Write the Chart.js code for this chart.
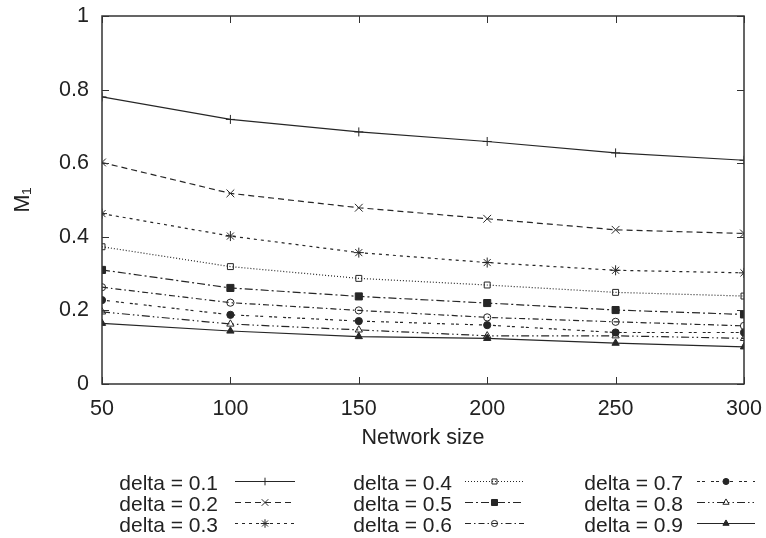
<!DOCTYPE html>
<html>
<head>
<meta charset="utf-8">
<script src="https://cdn.jsdelivr.net/npm/chart.js@4.4.0/dist/chart.umd.min.js"></script>
<style>
html,body{margin:0;padding:0;background:#fff;}
#wrap{width:766px;height:538px;}
</style>
</head>
<body>
<div id="wrap"><canvas id="c" width="766" height="538"></canvas></div>
<script>
const networkSizes = [50, 100, 150, 200, 250, 300];
const xTickLabels = ['50', '100', '150', '200', '250', '300'];
const yTickLabels = ['0', '0.2', '0.4', '0.6', '0.8', '1'];
const seriesLabels = ['delta = 0.1','delta = 0.2','delta = 0.3','delta = 0.4','delta = 0.5','delta = 0.6','delta = 0.7','delta = 0.8','delta = 0.9'];
const delta01 = [0.780, 0.719, 0.685, 0.659, 0.628, 0.608];
const delta02 = [0.602, 0.518, 0.479, 0.449, 0.419, 0.409];
const delta03 = [0.463, 0.402, 0.357, 0.330, 0.309, 0.302];
const delta04 = [0.373, 0.319, 0.287, 0.269, 0.249, 0.239];
const delta05 = [0.310, 0.261, 0.238, 0.220, 0.201, 0.189];
const delta06 = [0.263, 0.221, 0.200, 0.181, 0.169, 0.158];
const delta07 = [0.228, 0.188, 0.171, 0.160, 0.140, 0.140];
const delta08 = [0.196, 0.163, 0.147, 0.131, 0.131, 0.124];
const delta09 = [0.165, 0.144, 0.129, 0.124, 0.111, 0.101];
const seriesValues = [delta01, delta02, delta03, delta04, delta05, delta06, delta07, delta08, delta09];

const INK = '#262626';
const styles = [
  {dash: [], pt: 'cross', r: 4.5, fill: false},
  {dash: [6, 4], pt: 'crossRot', r: 5.5, fill: false},
  {dash: [3, 4], pt: 'star', r: 5, fill: false},
  {dash: [1, 2], pt: 'rect', r: 4.2, fill: false},
  {dash: [8, 3, 2, 3], pt: 'rect', r: 5, fill: true},
  {dash: [6, 3, 1.5, 3], pt: 'circle', r: 3.6, fill: false},
  {dash: [3, 2, 3, 6], pt: 'circle', r: 3.6, fill: true},
  {dash: [8, 3, 1.5, 3, 1.5, 3], pt: 'triangle', r: 4.2, fill: false},
  {dash: [], pt: 'triangle', r: 4.2, fill: true}
];

const datasets = seriesLabels.map((lab, i) => ({
  label: lab,
  data: networkSizes.map((x, j) => ({x: x, y: seriesValues[i][j]})),
  borderColor: INK,
  borderWidth: 1.2,
  borderDash: styles[i].dash,
  pointStyle: styles[i].pt,
  pointRadius: styles[i].r,
  pointBorderWidth: 1,
  pointBorderColor: INK,
  pointBackgroundColor: styles[i].fill ? INK : 'rgba(0,0,0,0)',
  tension: 0,
  fill: false
}));

const FONT = 'Liberation Sans, Arial, Helvetica, sans-serif';

const framePlugin = {
  id: 'frame',
  afterDraw(chart) {
    const ctx = chart.ctx;
    const {left, right, top, bottom} = chart.chartArea;
    const xs = chart.scales.x, ys = chart.scales.y;
    ctx.save();
    ctx.strokeStyle = '#333';
    ctx.lineWidth = 1.5;
    ctx.setLineDash([]);
    ctx.strokeRect(left, top, right - left, bottom - top);
    ctx.lineWidth = 1;
    ctx.beginPath();
    ys.ticks.forEach(t => {
      const py = Math.round(ys.getPixelForValue(t.value)) + 0.5;
      ctx.moveTo(left, py); ctx.lineTo(left + 7, py);
      ctx.moveTo(right, py); ctx.lineTo(right - 7, py);
    });
    xs.ticks.forEach(t => {
      const px = Math.round(xs.getPixelForValue(t.value)) + 0.5;
      ctx.moveTo(px, bottom); ctx.lineTo(px, bottom - 7);
      ctx.moveTo(px, top); ctx.lineTo(px, top + 7);
    });
    ctx.stroke();

    // legend (3 columns, column-major)
    const colTextRight = [218, 452, 683];
    const colSample = [[235, 295], [465, 524], [697, 755]];
    const rowY = [483, 504, 525];
    ctx.font = '21px ' + FONT;
    ctx.fillStyle = '#222';
    ctx.textAlign = 'right';
    ctx.textBaseline = 'middle';
    chart.data.datasets.forEach((ds, i) => {
      const c = Math.floor(i / 3), r = i % 3;
      const y = rowY[r];
      ctx.fillText(ds.label, colTextRight[c], y + 1);
      const [x0, x1] = colSample[c];
      const ly = y - 1.5;
      ctx.save();
      ctx.strokeStyle = ds.borderColor;
      ctx.lineWidth = ds.borderWidth;
      ctx.setLineDash(ds.borderDash);
      ctx.beginPath();
      ctx.moveTo(x0, ly); ctx.lineTo(x1, ly);
      ctx.stroke();
      ctx.setLineDash([]);
      ctx.fillStyle = ds.pointBackgroundColor;
      ctx.strokeStyle = ds.pointBorderColor;
      ctx.lineWidth = ds.pointBorderWidth;
      Chart.helpers.drawPoint(ctx, {pointStyle: ds.pointStyle, radius: ds.pointRadius * 0.85, rotation: 0, borderWidth: 1}, (x0 + x1) / 2, ly);
      ctx.restore();
    });
    ctx.restore();
  }
};

new Chart(document.getElementById('c'), {
  type: 'line',
  data: {datasets: datasets},
  options: {
    responsive: false,
    animation: false,
    devicePixelRatio: 1,
    layout: {padding: {left: 0, top: 16, right: 22, bottom: 86}},
    plugins: {legend: {display: false}, tooltip: {enabled: false}},
    scales: {
      x: {
        type: 'linear',
        min: 50, max: 300,
        afterBuildTicks: (s) => { s.ticks = networkSizes.map(v => ({value: v})); },
        afterFit: (s) => { s.height = 68; s.paddingLeft = 0; s.paddingRight = 0; },
        grid: {display: false, drawTicks: false},
        border: {display: false},
        ticks: {
          padding: 12,
          color: '#222',
          font: {family: FONT, size: 21.5},
          callback: (v, i) => xTickLabels[i]
        },
        title: {display: true, text: 'Network size', color: '#222', font: {family: FONT, size: 21.5}, padding: {top: 0, bottom: 1}}
      },
      y: {
        type: 'linear',
        min: 0, max: 1,
        afterBuildTicks: (s) => { s.ticks = yTickLabels.map(v => ({value: parseFloat(v)})); },
        afterFit: (s) => { s.width = 102; s.paddingTop = 0; s.paddingBottom = 0; },
        grid: {display: false, drawTicks: false},
        border: {display: false},
        ticks: {
          padding: 13,
          color: '#222',
          font: {family: FONT, size: 21.5},
          callback: (v, i) => yTickLabels[i]
        },
        title: {display: true, text: 'M\u2081', color: '#222', font: {family: FONT, size: 21.5}, padding: {top: 10, bottom: 0}}
      }
    }
  },
  plugins: [framePlugin]
});
</script>
</body>
</html>
